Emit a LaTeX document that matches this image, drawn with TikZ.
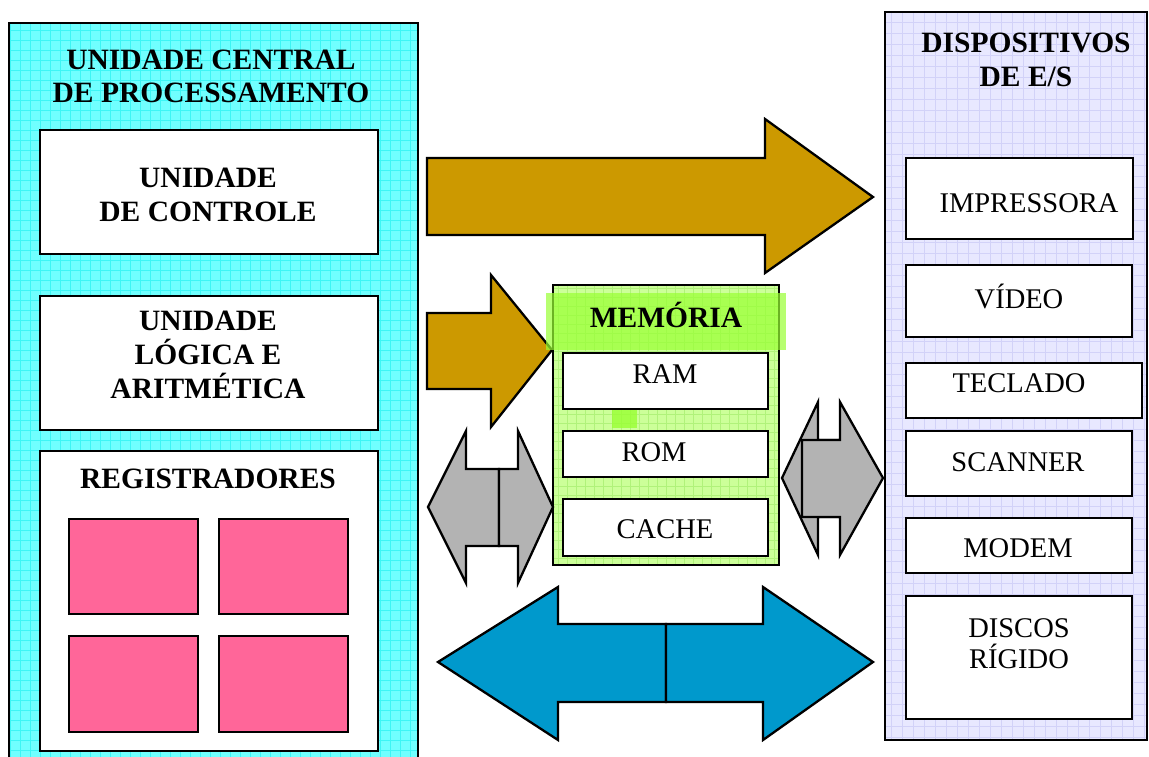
\documentclass[tikz,border=0pt]{standalone}
\usepackage{fontspec}
\setmainfont{Liberation Serif}
\usetikzlibrary{fit}
\definecolor{cpufill}{HTML}{70FFFF}
\definecolor{cpugrid}{HTML}{3DF5F5}
\definecolor{iofill}{HTML}{E8E8FF}
\definecolor{iogrid}{HTML}{D2D2F8}
\definecolor{memfill}{HTML}{CCFF99}
\definecolor{memgrid}{HTML}{B0F27A}
\definecolor{memband}{HTML}{99FF33}
\definecolor{gold}{HTML}{CC9900}
\definecolor{greyarrow}{HTML}{B3B3B3}
\definecolor{bluearrow}{HTML}{0099CC}
\definecolor{regpink}{HTML}{FF6699}
\begin{document}
\begin{tikzpicture}[x=1pt,y=-1pt,
  box/.style={draw=black, line width=2.6pt, fill=white, inner sep=0pt},
  regbox/.style={draw=black, line width=2.6pt, fill=regpink, inner sep=0pt},
  panelbox/.style={draw=black, line width=2.6pt, inner sep=0pt},
  ttl/.style={font=\fontsize{29.5}{34}\selectfont\bfseries, anchor=base, inner sep=0pt},
  lbl/.style={font=\fontsize{28.5}{34}\selectfont, anchor=base, inner sep=0pt},
  blockarrow/.style={draw=black, line width=2.3pt, line join=miter},
]
\useasboundingbox (0,0) rectangle (1149,757);

% ---------- CPU panel ----------
\fill[cpufill] (9,23) rectangle (418,770);
\draw[cpugrid, line width=0.5pt] (9,23) grid[step=10pt] (418,757);
\node[panelbox, fit={(9,23) (418,770)}] (cpu) {};
\node[ttl] (cpuT1) at (211,70) {UNIDADE CENTRAL};
\node[ttl] (cpuT2) at (211,103) {DE PROCESSAMENTO};

\node[box, fit={(40,130) (378,254)}] (uc) {};
\node[ttl] (ucT1) at (208,187) {UNIDADE};
\node[ttl] (ucT2) at (208,221) {DE CONTROLE};

\node[box, fit={(40,296) (378,430)}] (ula) {};
\node[ttl] (ulaT1) at (208,330) {UNIDADE};
\node[ttl] (ulaT2) at (208,364) {LÓGICA E};
\node[ttl] (ulaT3) at (208,398) {ARITMÉTICA};

\node[box, fit={(40,451) (378,751)}] (reg) {};
\node[ttl] (regT) at (208,488) {REGISTRADORES};
\node[regbox, fit={(69,519) (198,614)}] (r1) {};
\node[regbox, fit={(219,519) (348,614)}] (r2) {};
\node[regbox, fit={(69,636) (198,732)}] (r3) {};
\node[regbox, fit={(219,636) (348,732)}] (r4) {};

% ---------- I/O panel ----------
\fill[iofill] (885,12) rectangle (1147,740);
\draw[iogrid, line width=0.6pt] (885,12) grid[step=11pt] (1147,740);
\node[panelbox, fit={(885,12) (1147,740)}] (io) {};
\node[ttl] (ioT1) at (1026,53) {DISPOSITIVOS};
\node[ttl] (ioT2) at (1026,87) {DE E/S};

\node[box, fit={(906,158) (1133,239)}] (impr) {};
\node[lbl] (imprT) at (1029,212) {IMPRESSORA};
\node[box, fit={(906,265) (1132,337)}] (video) {};
\node[lbl] (videoT) at (1019,308) {VÍDEO};
\node[box, fit={(906,363) (1142,418)}] (tecl) {};
\node[lbl] (teclT) at (1019,392) {TECLADO};
\node[box, fit={(906,431) (1132,496)}] (scan) {};
\node[lbl] (scanT) at (1018,471) {SCANNER};
\node[box, fit={(906,518) (1132,573)}] (modem) {};
\node[lbl] (modemT) at (1018,557) {MODEM};
\node[box, fit={(906,596) (1132,719)}] (disco) {};
\node[lbl] (discoT1) at (1019,637) {DISCOS};
\node[lbl] (discoT2) at (1019,668) {RÍGIDO};

% ---------- Memory ----------
\fill[memfill] (553,285) rectangle (779,565);
\draw[memgrid, line width=0.6pt] (553,285) grid[step=9pt] (779,565);
\node[panelbox, fit={(553,285) (779,565)}] (mem) {};

% ---------- block arrows ----------
% CPU -> I/O
\draw[blockarrow, fill=gold] (427,158) -- (765,158) -- (765,119) -- (873,197)
  -- (765,273) -- (765,235) -- (427,235) -- cycle;
% CPU -> memory
\draw[blockarrow, fill=gold] (427,313) -- (491,313) -- (491,275) -- (552,350)
  -- (491,427) -- (491,389) -- (427,389) -- cycle;
% CPU <-> memory
\draw[blockarrow, fill=greyarrow] (428,507) -- (466,431) -- (466,469) -- (499,469)
  -- (499,546) -- (466,546) -- (466,583) -- cycle;
\draw[blockarrow, fill=greyarrow] (499,469) -- (518,469) -- (518,431) -- (553,507)
  -- (518,583) -- (518,546) -- (499,546) -- cycle;
% memory <-> I/O
\draw[blockarrow, fill=greyarrow] (782,478) -- (818,402) -- (818,440) -- (845,440)
  -- (845,517) -- (818,517) -- (818,555) -- cycle;
\draw[blockarrow, fill=greyarrow] (802,440) -- (840,440) -- (840,402) -- (883,478)
  -- (840,555) -- (840,517) -- (802,517) -- cycle;
% CPU <-> I/O
\draw[blockarrow, fill=bluearrow] (438,662) -- (558,587) -- (558,624) -- (666,624)
  -- (666,702) -- (558,702) -- (558,740) -- cycle;
\draw[blockarrow, fill=bluearrow] (666,624) -- (763,624) -- (763,587) -- (873,662)
  -- (763,740) -- (763,702) -- (666,702) -- cycle;

% memory header band and contents
\fill[memband, opacity=0.7] (546,293) rectangle (786,350);
\fill[memband, opacity=0.8] (612,410) rectangle (637,428);
\node[ttl] (memT) at (666,327) {MEMÓRIA};
\node[box, fit={(563,353) (768,409)}] (ram) {};
\node[lbl] (ramT) at (665,383) {RAM};
\node[box, fit={(563,431) (768,477)}] (rom) {};
\node[lbl] (romT) at (654,461) {ROM};
\node[box, fit={(563,499) (768,556)}] (cache) {};
\node[lbl] (cacheT) at (665,538) {CACHE};
\end{tikzpicture}
\end{document}
